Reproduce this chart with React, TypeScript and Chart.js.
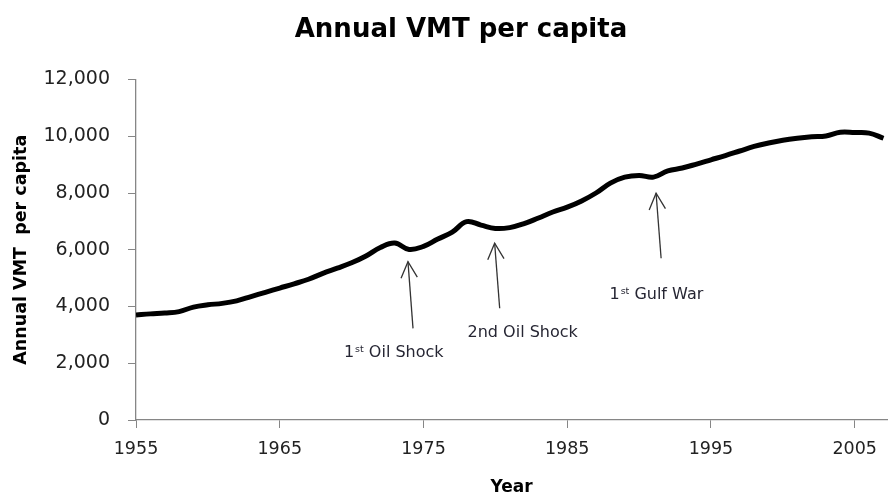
import React, { useEffect, useRef } from "react";
import { Chart, registerables } from "chart.js";

Chart.register(...registerables);

const chartTitle = "Annual VMT per capita";

const years = [
  1955, 1956, 1957, 1958, 1959, 1960, 1961, 1962, 1963, 1964,
  1965, 1966, 1967, 1968, 1969, 1970, 1971, 1972, 1973, 1974,
  1975, 1976, 1977, 1978, 1979, 1980, 1981, 1982, 1983, 1984,
  1985, 1986, 1987, 1988, 1989, 1990, 1991, 1992, 1993, 1994,
  1995, 1996, 1997, 1998, 1999, 2000, 2001, 2002, 2003, 2004,
  2005, 2006, 2007,
];

const vmtPerCapita = [
  3700, 3740, 3770, 3820, 3980, 4060, 4110, 4200, 4350, 4500,
  4650, 4800, 4960, 5170, 5350, 5540, 5780, 6080, 6240, 6010,
  6120, 6380, 6620, 6990, 6870, 6750, 6780, 6920, 7120, 7330,
  7500, 7720, 8000, 8350, 8560, 8620, 8560, 8780, 8880, 9020,
  9170, 9320, 9480, 9640, 9760, 9860, 9930, 9980, 10010, 10140,
  10130, 10110, 9930,
];

const xTicks = [1955, 1965, 1975, 1985, 1995, 2005];
const yTicks = [0, 2000, 4000, 6000, 8000, 10000, 12000];

// Annotations (in data coordinates)
const annotationPrefix = ["1", "2nd", "1"];
const annotationSup = ["st", "", "st"];
const annotationSuffix = [" Oil Shock", " Oil Shock", " Gulf War"];
const labelYear = [1972.93, 1981.9, 1991.2];
const labelValue = [2360, 3070, 4400];
const arrowTipYear = [1973.92, 1979.95, 1991.18];
const arrowTipValue = [5580, 6230, 7990];
const arrowTailYear = [1974.27, 1980.3, 1991.53];
const arrowTailValue = [3230, 3940, 5700];

const FONT = "'DejaVu Sans', sans-serif";

const titlePlugin = {
  id: "customTitle",
  afterDraw(chart: any) {
    const { ctx } = chart;
    ctx.save();
    ctx.fillStyle = "#000000";
    ctx.font = `bold 26px ${FONT}`;
    ctx.textAlign = "center";
    ctx.textBaseline = "middle";
    ctx.fillText(chartTitle, 461, 30);
    ctx.restore();
  },
};

const annotationPlugin = {
  id: "annotations",
  afterDatasetsDraw(chart: any) {
    const { ctx, scales } = chart;
    const xs = scales.x;
    const ys = scales.y;
    ctx.save();
    ctx.strokeStyle = "#333333";
    ctx.lineWidth = 1.3;
    for (let i = 0; i < arrowTipYear.length; i++) {
      const tx = xs.getPixelForValue(arrowTipYear[i]);
      const ty = ys.getPixelForValue(arrowTipValue[i]);
      const bx = xs.getPixelForValue(arrowTailYear[i]);
      const by = ys.getPixelForValue(arrowTailValue[i]);
      ctx.beginPath();
      ctx.moveTo(bx, by);
      ctx.lineTo(tx, ty);
      ctx.stroke();
      const ang = Math.atan2(ty - by, tx - bx);
      const hl = 18;
      const ha = 0.47;
      ctx.beginPath();
      ctx.moveTo(tx - hl * Math.cos(ang - ha), ty - hl * Math.sin(ang - ha));
      ctx.lineTo(tx, ty);
      ctx.lineTo(tx - hl * Math.cos(ang + ha), ty - hl * Math.sin(ang + ha));
      ctx.stroke();
    }
    ctx.fillStyle = "#262633";
    ctx.textBaseline = "middle";
    ctx.textAlign = "left";
    const mainFont = `16px ${FONT}`;
    const supFont = `9.5px ${FONT}`;
    for (let i = 0; i < labelYear.length; i++) {
      const cx = xs.getPixelForValue(labelYear[i]);
      const cy = ys.getPixelForValue(labelValue[i]);
      ctx.font = mainFont;
      const w1 = ctx.measureText(annotationPrefix[i]).width;
      const w3 = ctx.measureText(annotationSuffix[i]).width;
      ctx.font = supFont;
      const w2 = annotationSup[i] ? ctx.measureText(annotationSup[i]).width + 1 : 0;
      let x = cx - (w1 + w2 + w3) / 2;
      ctx.font = mainFont;
      ctx.fillText(annotationPrefix[i], x, cy);
      x += w1;
      if (annotationSup[i]) {
        ctx.font = supFont;
        ctx.fillText(annotationSup[i], x + 1, cy - 4);
        x += w2;
      }
      ctx.font = mainFont;
      ctx.fillText(annotationSuffix[i], x, cy);
    }
    ctx.restore();
  },
};

const fmt = (v: number) => v.toString().replace(/\B(?=(\d{3})+(?!\d))/g, ",");

export default function App() {
  const canvasRef = useRef<HTMLCanvasElement | null>(null);

  useEffect(() => {
    if (!canvasRef.current) return;
    const chart = new Chart(canvasRef.current, {
      type: "line",
      data: {
        datasets: [
          {
            label: chartTitle,
            data: years.map((y, i) => ({ x: y, y: vmtPerCapita[i] })),
            borderColor: "#000000",
            borderWidth: 5,
            pointRadius: 0,
            tension: 0.4,
            fill: false,
          },
        ],
      },
      options: {
        animation: false,
        responsive: false,
        maintainAspectRatio: false,
        layout: { padding: { top: 79.5, left: 0, right: 0, bottom: 0 } },
        plugins: {
          legend: { display: false },
          tooltip: { enabled: false },
          title: { display: false },
        },
        scales: {
          x: {
            type: "linear",
            min: 1955,
            max: 2007.25,
            afterFit: (s: any) => {
              s.height = 80;
            },
            afterBuildTicks: (s: any) => {
              s.ticks = xTicks.map((v) => ({ value: v }));
            },
            grid: {
              drawOnChartArea: false,
              drawTicks: true,
              tickLength: 8,
              color: "#868686",
            },
            border: { color: "#868686", width: 1.3 },
            ticks: {
              autoSkip: false,
              maxRotation: 0,
              padding: 11,
              color: "#222222",
              font: { family: FONT, size: 17.5 },
              callback: (v: any) => String(v),
            },
            title: {
              display: true,
              text: "Year",
              color: "#000000",
              font: { family: FONT, size: 17, weight: "bold" },
              padding: { top: 0, bottom: 2 },
            },
          },
          y: {
            type: "linear",
            min: 0,
            max: 12000,
            afterFit: (s: any) => {
              s.width = 136;
            },
            afterBuildTicks: (s: any) => {
              s.ticks = yTicks.map((v) => ({ value: v }));
            },
            grid: {
              drawOnChartArea: false,
              drawTicks: true,
              tickLength: 8,
              color: "#868686",
            },
            border: { color: "#868686", width: 1.3 },
            ticks: {
              padding: 18,
              color: "#222222",
              font: { family: FONT, size: 19 },
              callback: (v: any) => fmt(Number(v)),
            },
            title: {
              display: true,
              text: "Annual VMT  per capita",
              color: "#000000",
              font: { family: FONT, size: 17.5, weight: "bold" },
              padding: { top: 11, bottom: 0 },
            },
          },
        },
      },
      plugins: [annotationPlugin, titlePlugin],
    });
    return () => chart.destroy();
  }, []);

  return (
    <div style={{ position: "fixed", left: 0, top: 0, width: 888, height: 500, background: "#ffffff" }}>
      <canvas ref={canvasRef} width={888} height={500} style={{ display: "block" }} />
    </div>
  );
}
